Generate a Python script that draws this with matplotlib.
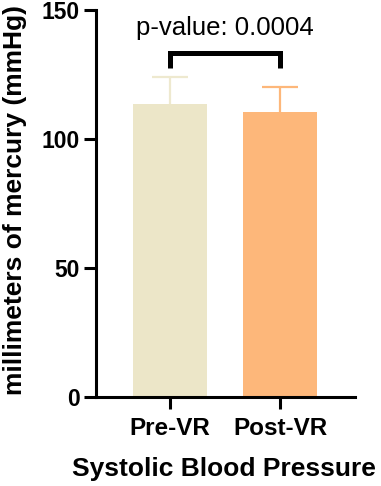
import matplotlib
matplotlib.use("Agg")
import matplotlib.pyplot as plt

categories = ["Pre-VR", "Post-VR"]
means = [113.8, 110.5]
sd_upper = [10.2, 9.8]
bar_colors = ["#ECE6C8", "#FDB77A"]
err_colors = ["#EEE9CF", "#FDB77A"]
yticks = [0, 50, 100, 150]
p_text = "p-value: 0.0004"
bracket_y = 133.3
bracket_leg = 127.7

plt.rcParams['font.family'] = ['Liberation Sans', 'DejaVu Sans']

fig = plt.figure(figsize=(3.81, 4.86), dpi=100)
ax = fig.add_axes([0.252, 0.183, 0.680, 0.796])

x = list(range(len(categories)))
ax.bar(x, means, width=0.67, color=bar_colors, zorder=2)
for xi, m, e, c in zip(x, means, sd_upper, err_colors):
    _, caps, _ = ax.errorbar([xi], [m], yerr=[[0], [e]], fmt='none', ecolor=c,
                             elinewidth=1.6, capsize=13, capthick=1.6, zorder=1)
    if len(caps) > 1:
        caps[0].set_visible(False)

# significance bracket
ax.plot([x[0], x[0], x[1], x[1]], [bracket_leg, bracket_y, bracket_y, bracket_leg],
        color='black', lw=3.6, solid_capstyle='butt', solid_joinstyle='miter', clip_on=False)
ax.text((x[0] + x[1]) / 2, 143, p_text, ha='center', va='center', fontsize=18.5)

ax.set_xlim(-0.673, 1.682)
ax.set_ylim(0, 150)
ax.set_yticks(yticks)
ax.set_xticks(x)
ax.set_xticklabels(categories, fontsize=17.5, fontweight='bold')
for lab in ax.get_yticklabels():
    lab.set_fontsize(16.5)
    lab.set_fontweight('bold')

for s in ['top', 'right']:
    ax.spines[s].set_visible(False)
for s in ['left', 'bottom']:
    ax.spines[s].set_linewidth(2.2)
ax.tick_params(axis='both', width=2.2, length=8.6)
ax.tick_params(axis='y', pad=3)
ax.tick_params(axis='x', pad=6)

fig.text(224 / 381, 1 - 469 / 486, "Systolic Blood Pressure", ha='center', va='center',
         fontsize=19, fontweight='bold')
fig.text(15 / 381, 1 - 200 / 486, "millimeters of mercury (mmHg)", ha='center', va='center',
         rotation=90, fontsize=19, fontweight='bold')

fig.savefig("out.png", dpi=100)
